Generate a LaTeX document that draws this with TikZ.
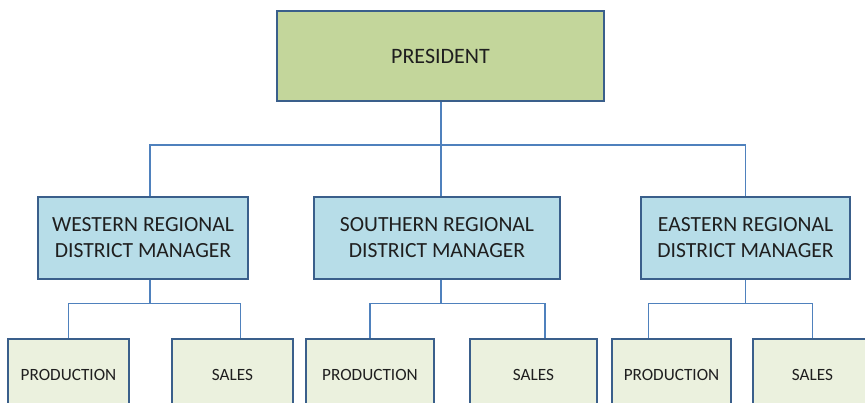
\documentclass[tikz,border=0pt]{standalone}
\usepackage{fontspec}
\setmainfont{Carlito}
\definecolor{edge}{HTML}{3A5F8B}
\definecolor{link}{HTML}{4F81BD}
\definecolor{chief}{HTML}{C3D69B}
\definecolor{mgr}{HTML}{B7DDE8}
\definecolor{unit}{HTML}{EBF1DE}

\begin{document}
\begin{tikzpicture}[x=0.5pt,y=0.5pt,
   box/.style={draw=edge,line width=1.3pt,align=center,inner sep=0pt,text=black!88},
   top/.style={box,fill=chief,minimum width=163.5pt,minimum height=45pt,font=\fontsize{11}{13}\selectfont},
   region/.style={box,fill=mgr,minimum height=41pt,font=\fontsize{10.8}{13}\selectfont},
   dept/.style={box,fill=unit,minimum height=36pt,font=\fontsize{8.6}{10}\selectfont},
   wire/.style={draw=link,line width=0.6pt}]
   \clip (0,0) rectangle (865,402);
   \fill[white] (0,0) rectangle (865,402);

   \node[top] (pres) at (440.5,346) {PRESIDENT};

   \node[region,minimum width=105pt] (west) at (143,164) {WESTERN REGIONAL\\DISTRICT MANAGER};
   \node[region,minimum width=123pt] (south) at (437,164) {SOUTHERN REGIONAL\\DISTRICT MANAGER};
   \node[region,minimum width=104.5pt] (east) at (745.5,164) {EASTERN REGIONAL\\DISTRICT MANAGER};

   \node[dept,minimum width=60.5pt] (wprod) at (68.5,27) {PRODUCTION};
   \node[dept,minimum width=60.5pt] (wsales) at (232.5,27) {SALES};
   \node[dept,minimum width=64pt] (sprod) at (370,27) {PRODUCTION};
   \node[dept,minimum width=63.5pt] (ssales) at (533.5,27) {SALES};
   \node[dept,minimum width=59.5pt] (eprod) at (671.5,27) {PRODUCTION};
   \node[dept,minimum width=59.5pt] (esales) at (812.5,27) {SALES};

   % president to the three regions
   \coordinate (bus) at (441,257);
   \draw[wire] ([xshift=0.25pt]pres.south) -- (bus);
   \draw[wire] ([xshift=3.5pt]west.north) |- (bus) -| (east.north);
   \draw[wire] ([xshift=2pt]south.north) -- (bus);

   % regions to their departments
   \draw[wire] ([xshift=3.5pt]west.south) -- ++(0,-23) coordinate (wbus);
   \draw[wire] (wprod.north) |- (wbus) -| ([xshift=4pt]wsales.north);
   \draw[wire] ([xshift=2pt]south.south) -- ++(0,-23) coordinate (sbus);
   \draw[wire] (sprod.north) |- (sbus) -| ([xshift=5.75pt]ssales.north);
   \draw[wire] (east.south) -- ++(0,-23) coordinate (ebus);
   \draw[wire] ([xshift=-11.5pt]eprod.north) |- (ebus) -| (esales.north);
\end{tikzpicture}
\end{document}
